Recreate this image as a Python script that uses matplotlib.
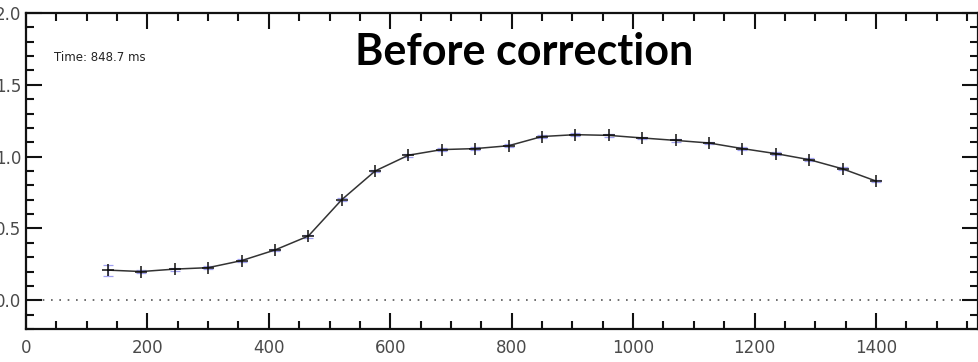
import matplotlib
matplotlib.use("Agg")
import matplotlib.pyplot as plt
from matplotlib.ticker import MultipleLocator

# data
depth = [135, 190, 245, 300, 355, 410, 465, 520, 575, 630, 685, 740,
         795, 850, 905, 960, 1015, 1070, 1125, 1180, 1235, 1290, 1345, 1400]
values = [0.21, 0.20, 0.217, 0.227, 0.276, 0.35, 0.447, 0.70, 0.90, 1.01, 1.049, 1.056,
          1.076, 1.14, 1.153, 1.148, 1.13, 1.113, 1.095, 1.056, 1.021, 0.979, 0.915, 0.83]
errors = [0.038, 0.012, 0.01, 0.01, 0.01, 0.01, 0.01, 0.01, 0.01, 0.01, 0.01, 0.01,
          0.01, 0.01, 0.01, 0.01, 0.01, 0.01, 0.01, 0.01, 0.01, 0.01, 0.01, 0.01]
time_label = "Time: 848.7 ms"
title = "Before correction"

fig = plt.figure(figsize=(9.79, 3.62), dpi=100)
ax = fig.add_axes([26 / 979, 1 - 329 / 362, 952 / 979, 316 / 362])

ax.errorbar(depth, values, yerr=errors, fmt="none", ecolor="#a0a0f0",
            elinewidth=0.9, capsize=3.5, capthick=0.9, zorder=2)
ax.plot(depth, values, color="#333333", lw=1.1, marker="+", ms=8, mew=1.1,
        mec="#111111", zorder=3)
ax.axhline(0.0, color="#555555", lw=1.2, ls=(0, (1, 4)), zorder=1)

ax.set_xlim(0, 1568)
ax.set_ylim(-0.2, 2.0)
ax.xaxis.set_major_locator(MultipleLocator(200))
ax.xaxis.set_minor_locator(MultipleLocator(50))
ax.yaxis.set_major_locator(MultipleLocator(0.5))
ax.yaxis.set_minor_locator(MultipleLocator(0.1))
ax.yaxis.set_major_formatter(lambda v, p: "%.1f" % v)

ax.tick_params(which="both", direction="in", top=True, right=True, width=1.5,
               color="#111111", labelsize=12, labelcolor="#4a4a4a")
ax.tick_params(which="major", length=11.5)
ax.tick_params(which="minor", length=5.5)
ax.tick_params(axis="x", pad=7)
ax.tick_params(axis="y", pad=3.5)
for s in ax.spines.values():
    s.set_linewidth(1.6)
    s.set_color("#111111")

ax.text(0.029, 0.86, time_label, fontsize=8.5, color="#222222",
        transform=ax.transAxes, va="center")
fig.text(524 / 979, 1 - 52 / 362, title, fontsize=31, fontweight="bold",
         family="Lato", ha="center", va="center")

fig.savefig("out.png", dpi=100)
